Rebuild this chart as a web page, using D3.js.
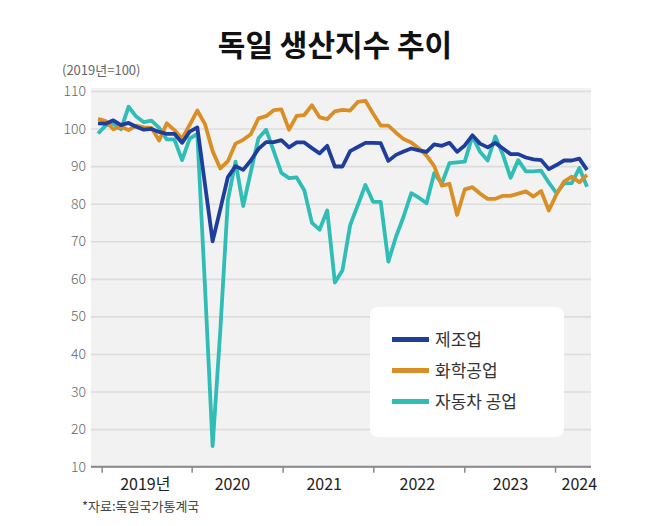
<!DOCTYPE html>
<html><head><meta charset="utf-8">
<script src="https://cdn.jsdelivr.net/npm/d3@7"></script>
<style>
body{margin:0;background:#fff;}
svg{display:block;font-family:"Noto Sans CJK KR","Noto Sans",sans-serif;}
</style></head>
<body><svg id="c" width="658" height="526"></svg>
<script>
// Monthly index, Jan 2019 – May 2024 (2019 = 100)
const months = d3.range(65); // month index 0 = 2019-01
const manufacturing = [101.4,101.3,102.2,100.9,101.5,100.5,99.7,99.9,99.1,98.6,98.6,96.2,
  99.2,100.3,85.2,70.0,78.5,87.1,90.0,89.0,91.5,94.6,96.4,96.4,
  96.9,95.0,96.3,96.3,94.8,93.4,95.4,89.9,89.9,94.0,95.1,96.2,
  96.2,96.1,91.4,93.0,93.9,94.7,94.2,93.8,95.8,95.4,96.2,93.8,
  95.5,98.2,96.0,95.0,96.2,94.7,93.2,93.2,92.3,91.8,91.6,89.2,
  90.3,91.5,91.5,92.0,89.0];
const chemical = [102.6,102.0,99.8,100.5,99.6,100.8,100.3,100.2,96.8,101.4,99.6,97.3,
  101.0,104.8,101.2,94.0,89.4,91.3,96.0,97.0,98.5,102.7,103.3,104.9,
  105.1,99.7,103.4,103.6,106.2,103.0,102.5,104.6,105.0,104.8,107.1,107.4,
  104.0,100.8,100.8,98.9,97.2,96.3,94.7,92.8,90.0,84.8,85.3,77.0,
  83.8,84.4,82.7,81.3,81.3,82.1,82.1,82.7,83.3,81.9,83.4,78.2,
  82.5,85.9,87.2,85.7,87.7];
const automotive = [98.7,100.8,101.3,99.8,105.8,103.2,101.7,102.1,100.2,97.1,97.1,91.6,
  97.3,98.6,58.0,15.5,46.0,81.0,91.2,79.4,88.5,97.4,99.7,94.0,
  88.2,86.8,87.0,83.6,74.9,73.1,78.2,59.0,62.3,74.3,79.6,85.0,
  80.5,80.5,64.6,71.2,76.6,82.8,81.6,80.1,88.1,85.4,90.8,91.0,
  91.2,98.0,93.8,91.5,97.9,93.0,86.9,91.6,88.6,88.6,88.8,85.6,
  82.8,85.4,85.5,89.5,84.5];
const seriesNames = ["제조업","화학공업","자동차 공업"];
const seriesColors = ["#1f3d9c","#d98f26","#2fbdb6"];
const yTicks = [10,20,30,40,50,60,70,80,90,100,110];
const yearTickMonths = [0.48,12.26,24.17,36.03,47.94,59.82];
const yearLabels = ["2019년","2020","2021","2022","2023","2024"];
const yearLabelMonths = [6.2,17.6,29.6,41.8,54.0,63.0];

const svg = d3.select("#c");
const x = d3.scaleLinear().domain([0,64]).range([98,587]);
const y = d3.scaleLinear().domain([10,110]).range([466.7,91]);
const left = 91, right = 591;

// title
svg.append("text").attr("x",335).attr("y",56).attr("text-anchor","middle")
  .attr("font-size",30).attr("font-weight",700).attr("fill","#111").text("독일 생산지수 추이");
svg.append("text").attr("x",62).attr("y",75).attr("font-size",13).attr("fill","#666").text("(2019년=100)");

// plot background
svg.append("rect").attr("x",left).attr("y",88).attr("width",right-left).attr("height",y(10)-88).attr("fill","#f2f2f2");

// grid + y labels
const yAxis = svg.append("g").attr("transform",`translate(${left},0)`)
  .call(d3.axisLeft(y).tickValues(yTicks).tickSize(-(right-left)).tickFormat(d3.format("d")));
yAxis.select(".domain").remove();
yAxis.selectAll(".tick line").attr("stroke","#dcdcdc").attr("stroke-width",1.6);
yAxis.selectAll(".tick text").attr("x",-5).attr("font-size",14).attr("fill","#666")
  .attr("font-family","'Noto Sans CJK KR',sans-serif").attr("font-weight",300);

// x axis
const xAxis = svg.append("g").attr("transform",`translate(0,${y(10)})`)
  .call(d3.axisBottom(x).tickValues(yearTickMonths).tickSize(6).tickSizeOuter(0).tickFormat(""));
xAxis.select(".domain").attr("d",`M${left},0H${right}`).attr("stroke","#8a8a8a").attr("stroke-width",2);
xAxis.selectAll(".tick line").attr("stroke","#8a8a8a").attr("stroke-width",1.5);
svg.append("g").selectAll("text").data(yearLabels).join("text")
  .attr("x",(d,i)=>x(yearLabelMonths[i])).attr("y",490).attr("text-anchor","middle")
  .attr("font-size",16).attr("fill","#222").text(d=>d);

svg.append("text").attr("x",82).attr("y",511).attr("font-size",13).attr("fill","#444").text("*자료:독일국가통계국");

// lines
const line = d3.line().x((d,i)=>x(months[i])).y(d=>y(d)).curve(d3.curveLinear);
[automotive, chemical, manufacturing].forEach((s,k)=>{
  const ci = [2,1,0][k];
  svg.append("path").datum(s).attr("d",line).attr("fill","none")
    .attr("stroke",seriesColors[ci]).attr("stroke-width",3.8).attr("stroke-linejoin","round");
});

// legend
const lg = svg.append("g");
lg.append("rect").attr("x",370).attr("y",307).attr("width",194).attr("height",130).attr("rx",8).attr("fill","#fff");
seriesNames.forEach((n,i)=>{
  const yy = 339.5 + i*31;
  lg.append("line").attr("x1",392).attr("x2",429).attr("y1",yy).attr("y2",yy)
    .attr("stroke",seriesColors[i]).attr("stroke-width",5);
  lg.append("text").attr("x",435).attr("y",yy+6).attr("font-size",17).attr("fill","#333").text(n);
});
</script></body></html>
